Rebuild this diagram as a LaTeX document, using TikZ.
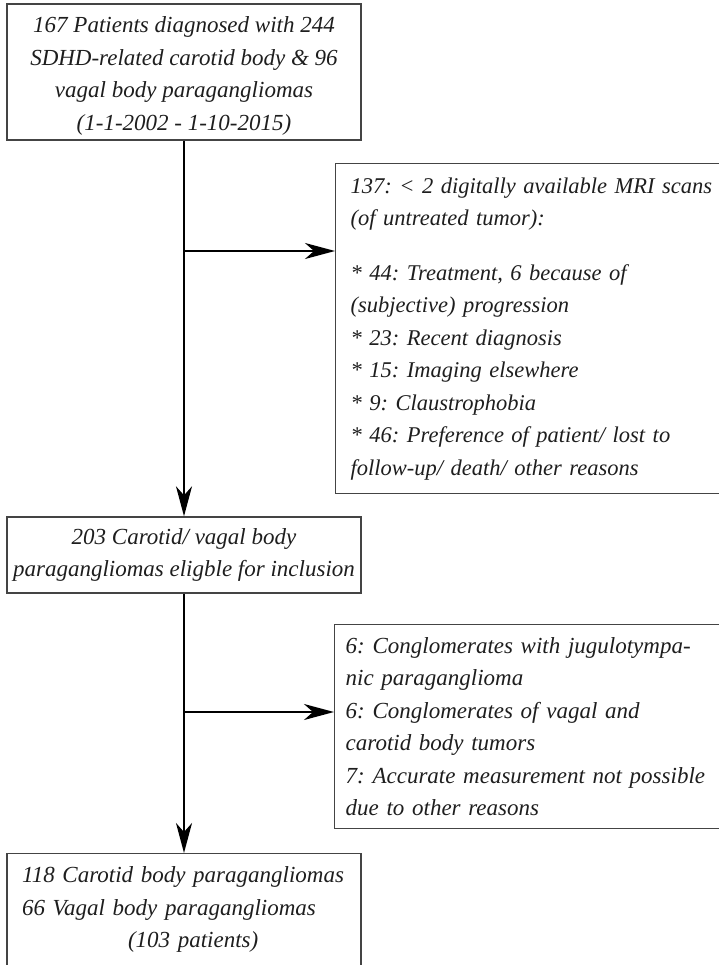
\documentclass[tikz,border=0pt]{standalone}
\usepackage{fontspec}
\setmainfont{Liberation Serif}
\usetikzlibrary{arrows.meta}
\definecolor{textcol}{HTML}{1E1E1E}
\definecolor{boxgray}{HTML}{444444}
\begin{document}
\frenchspacing
\begin{tikzpicture}[x=1pt,y=-1pt,
  box/.style={draw=boxgray, line width=1.4pt, rectangle, inner ysep=0pt,
    font=\itshape\fontsize{23}{32.5}\selectfont, text=textcol},
  flow/.style={line width=2pt, draw=black,
    -{Stealth[length=30pt,width=16pt,inset=9pt]}}
]
\useasboundingbox (0,0) rectangle (718,965);

\node[box, minimum width=354pt, minimum height=136pt, align=center] (top) at (184,72)
  {\parbox{330pt}{\vspace*{8pt}\centering 167 Patients diagnosed with 244\\ SDHD-related carotid body \& 96\\ vagal body paragangliomas\\ (1-1-2002 - 1-10-2015)}};

\node[box, anchor=north west, inner xsep=15pt, text width=380pt, minimum height=330pt, align=left,
  font=\itshape\fontsize{22.5}{32.5}\selectfont] (excl1) at (335,163)
  {137: < 2 digitally available MRI scans\\ (of untreated tumor):\\[22pt] {*} 44: Treatment, 6 because of\\ (subjective) progression\\ {*} 23: Recent diagnosis\\ {*} 15: Imaging elsewhere\\ {*} 9: Claustrophobia\\ {*} 46: Preference of patient/ lost to\\ follow-up/ death/ other reasons};

\node[box, minimum width=354pt, minimum height=76pt, align=center] (mid) at (184,555)
  {203 Carotid/ vagal body\\ paragangliomas eligble for inclusion};

\node[box, anchor=north west, inner xsep=11pt, text width=380pt, minimum height=204pt, align=left] (excl2) at (334,624)
  {6: Conglomerates with jugulotympa-\\ nic paraganglioma\\ 6: Conglomerates of vagal and\\ carotid body tumors\\ 7: Accurate measurement not possible\\ due to other reasons};

\node[box, anchor=north, inner xsep=15pt, text width=324pt, minimum height=112pt, align=left] (final) at (184,853)
  {118 Carotid body paragangliomas\\ 66 Vagal body paragangliomas\\ \hspace*{106pt}(103 patients)};

\coordinate (j1) at (184,251);
\coordinate (j2) at (184,712);

\draw[flow] (top.south) -- (mid.north);
\draw[flow] (j1) -- (j1 -| excl1.west);
\draw[flow] (mid.south) -- (final.north);
\draw[flow] (j2) -- (j2 -| excl2.west);
\end{tikzpicture}
\end{document}
